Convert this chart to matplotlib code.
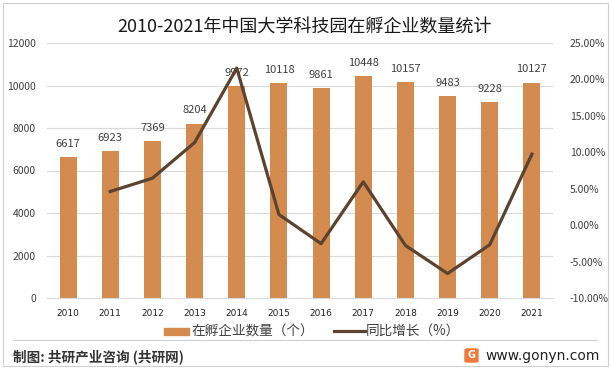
import matplotlib
matplotlib.use("Agg")
import matplotlib.pyplot as plt
from matplotlib.patches import Rectangle, FancyBboxPatch
from matplotlib.lines import Line2D

plt.rcParams['font.family'] = ['Noto Sans CJK SC', 'DejaVu Sans']

years = ['2010', '2011', '2012', '2013', '2014', '2015', '2016', '2017', '2018', '2019', '2020', '2021']
counts = [6617, 6923, 7369, 8204, 9972, 10118, 9861, 10448, 10157, 9483, 9228, 10127]
growth = [None, 4.62, 6.44, 11.33, 21.55, 1.46, -2.54, 5.95, -2.79, -6.64, -2.69, 9.74]

title = '2010-2021年中国大学科技园在孵企业数量统计'
bar_label = '在孵企业数量（个）'
line_label = '同比增长（%）'
footer_left = '制图: 共研产业咨询 (共研网)'
footer_right = 'www.gonyn.com'

BAR = '#D38B4F'
LINE = '#5C4330'
TXT = '#404040'

W, H = 611, 370
fig = plt.figure(figsize=(W/100, H/100), dpi=100)
ax = fig.add_axes([47/W, 1-298/H, 506/W, 255/H])
x = list(range(len(years)))
ax.bar(x, counts, width=0.4, color=BAR, zorder=2)
ax.set_xlim(-0.5, len(years)-0.5)
ax.set_ylim(0, 12000)
ax.set_yticks(range(0, 12001, 2000))
ax.yaxis.grid(True, color='#D9D9D9', linewidth=0.8, zorder=0)
for s in ax.spines.values():
    s.set_visible(False)
ax.spines['bottom'].set_visible(True)
ax.spines['bottom'].set_color('#D9D9D9')
ax.tick_params(axis='both', length=0, labelsize=7.5, colors=TXT)
ax.tick_params(axis='y', pad=8)
ax.set_xticks(x)
ax.set_xticklabels(years, fontsize=6.5, family=['DejaVu Sans'], color='#222222')
ax.tick_params(axis='x', pad=8)
for xi, v in zip(x, counts):
    ax.annotate(str(v), (xi, v), xytext=(0, 6), textcoords='offset points',
                ha='center', va='bottom', fontsize=8, color=TXT, zorder=5)

ax2 = ax.twinx()
gx = [xi for xi, g in zip(x, growth) if g is not None]
gy = [g for g in growth if g is not None]
ax2.plot(gx, gy, color=LINE, linewidth=2.3, zorder=4)
ax2.set_ylim(-10, 25)
ax2.set_yticks(range(-10, 26, 5))
ax2.set_yticklabels([f'{v:.2f}%' for v in range(-10, 26, 5)])
ax2.tick_params(axis='y', length=0, labelsize=7.5, colors=TXT, pad=12)
for s in ax2.spines.values():
    s.set_visible(False)

fig.text(305/W, 1-27/H, title, ha='center', va='center', fontsize=13, color='#1a1a1a')

# legend
fig.patches.append(Rectangle((164/W, 1-334.5/H), 25/W, 7/H, transform=fig.transFigure,
                             color=BAR, figure=fig))
fig.text(191/W, 1-331/H, bar_label, ha='left', va='center', fontsize=9.8, color=TXT)
fig.lines.append(Line2D([334/W, 365/W], [1-331/H, 1-331/H], transform=fig.transFigure,
                       color=LINE, linewidth=2.3, figure=fig))
fig.text(366/W, 1-331/H, line_label, ha='left', va='center', fontsize=9.8, color=TXT)

# separator and border
fig.lines.append(Line2D([13/W, 597/W], [1-340/H, 1-340/H], transform=fig.transFigure,
                        color='#D0D0D0', linewidth=0.8, figure=fig))
fig.patches.append(Rectangle((3/W, 1-366/H), 605/W, 363/H, transform=fig.transFigure,
                             fill=False, edgecolor='#D0D0D0', linewidth=0.8, figure=fig))

fig.text(13/W, 1-356.5/H, footer_left, ha='left', va='center', fontsize=9.8,
         color='#333333', fontweight='bold')
fig.patches.append(FancyBboxPatch((465/W, 1-362/H), 13/W, 13/H, transform=fig.transFigure,
                                  boxstyle='round,pad=0,rounding_size=0.003',
                                  color='#F07A3A', figure=fig))
fig.text(471.5/W, 1-355.5/H, 'G', ha='center', va='center', fontsize=7,
         color='white', fontweight='bold', family=['DejaVu Sans'])
fig.text(485/W, 1-356/H, footer_right, ha='left', va='center', fontsize=10,
         color='#222222', family=['DejaVu Sans'])

fig.savefig('out.png', dpi=100)
